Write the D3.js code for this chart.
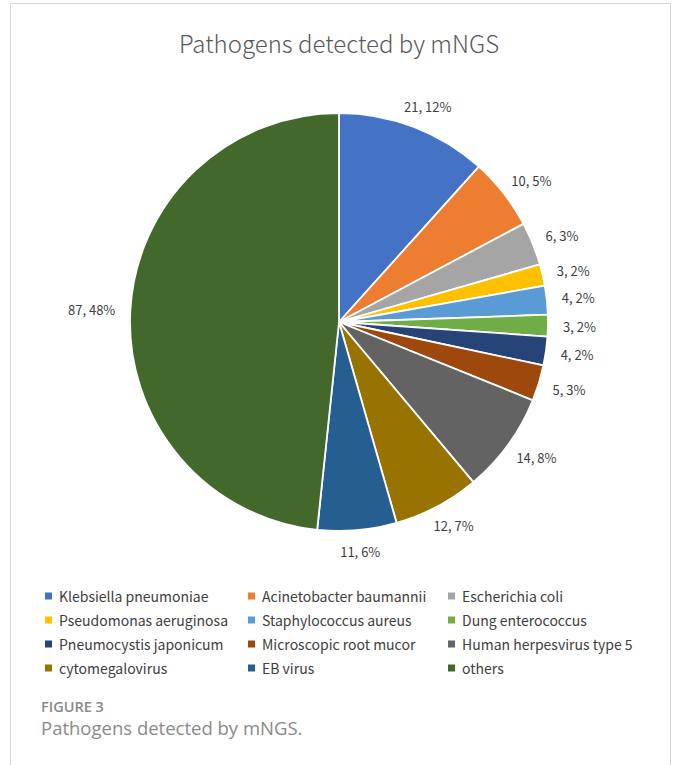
<!DOCTYPE html>
<html>
<head>
<meta charset="utf-8">
<script src="https://cdn.jsdelivr.net/npm/d3@7"></script>
<style>
  html, body { margin: 0; padding: 0; background: #fff; }
  svg { display: block; }
</style>
</head>
<body>
<svg id="chart" width="676" height="765"></svg>
<script>
const categories = [
  "Klebsiella pneumoniae", "Acinetobacter baumannii", "Escherichia coli",
  "Pseudomonas aeruginosa", "Staphylococcus aureus", "Dung enterococcus",
  "Pneumocystis japonicum", "Microscopic root mucor", "Human herpesvirus type 5",
  "cytomegalovirus", "EB virus", "others"
];
const values = [21, 10, 6, 3, 4, 3, 4, 5, 14, 12, 11, 87];
const percentLabels = ["12%", "5%", "3%", "2%", "2%", "2%", "2%", "3%", "8%", "7%", "6%", "48%"];
const colors = [
  "#4472C4", "#ED7D31", "#A5A5A5", "#FFC000", "#5B9BD5", "#70AD47",
  "#264478", "#9E480E", "#636363", "#997300", "#255E91", "#43682B"
];

const svg = d3.select("#chart");

// frame
svg.append("rect").attr("x", 10.5).attr("y", 3.5).attr("width", 660).attr("height", 800)
  .attr("fill", "none").attr("stroke", "#d6d6d6").attr("stroke-width", 1);

// title
svg.append("text").attr("x", 339).attr("y", 53).attr("text-anchor", "middle")
  .attr("font-family", "'Noto Sans CJK SC', 'Noto Sans', sans-serif").attr("font-weight", 300)
  .attr("font-size", 24).attr("fill", "#595959").text("Pathogens detected by mNGS");

const cx = 339, cy = 322, R = 209;
const data = categories.map((c, i) => ({ name: c, value: values[i], pct: percentLabels[i], color: colors[i] }));
const pie = d3.pie().value(d => d.value).sort(null);
const arcs = pie(data);
const arc = d3.arc().innerRadius(0).outerRadius(R);

const g = svg.append("g").attr("transform", `translate(${cx},${cy})`);
g.selectAll("path").data(arcs).join("path")
  .attr("d", arc).attr("fill", d => d.data.color)
  .attr("stroke", "#fff").attr("stroke-width", 1.8).attr("stroke-linejoin", "round");

// labels
const gap = 15, lh = 13;
g.selectAll("text.lbl").data(arcs).join("text").attr("class", "lbl")
  .attr("font-family", "'Noto Sans CJK SC', 'Noto Sans', sans-serif")
  .attr("font-size", 13).attr("fill", "#404040")
  .attr("text-anchor", "middle").attr("dominant-baseline", "central")
  .text(d => `${d.data.value}, ${d.data.pct}`)
  .each(function(d) {
    const a = (d.startAngle + d.endAngle) / 2;
    const w = this.getComputedTextLength();
    const s = Math.sin(a), c = Math.cos(a);
    const x = s * (R + gap) + s * w / 2;
    const y = -c * (R + gap) - c * lh / 2;
    d3.select(this).attr("x", x).attr("y", y);
  });

// legend
const colX = [45, 248, 448];
const rowY = [596, 620, 644, 668];
const lg = svg.append("g");
data.forEach((d, i) => {
  const col = i % 3, row = Math.floor(i / 3);
  const x = colX[col], y = rowY[row];
  lg.append("rect").attr("x", x).attr("y", y - 3.5).attr("width", 7).attr("height", 7).attr("fill", d.color);
  lg.append("text").attr("x", x + 14).attr("y", y).attr("dominant-baseline", "central")
    .attr("font-family", "'Noto Sans CJK SC', 'Noto Sans', sans-serif")
    .attr("font-size", 14).attr("fill", "#404040").text(d.name);
});

// caption
svg.append("text").attr("x", 41).attr("y", 712)
  .attr("font-family", "'Open Sans', 'Noto Sans', sans-serif").attr("font-weight", 600)
  .attr("font-size", 14.5).attr("fill", "#8a8a8a").text("FIGURE 3");
svg.append("text").attr("x", 41).attr("y", 735)
  .attr("font-family", "'Open Sans', 'Noto Sans', sans-serif").attr("font-weight", 400)
  .attr("font-size", 18.5).attr("fill", "#8a8a8a").text("Pathogens detected by mNGS.");
</script>
</body>
</html>
